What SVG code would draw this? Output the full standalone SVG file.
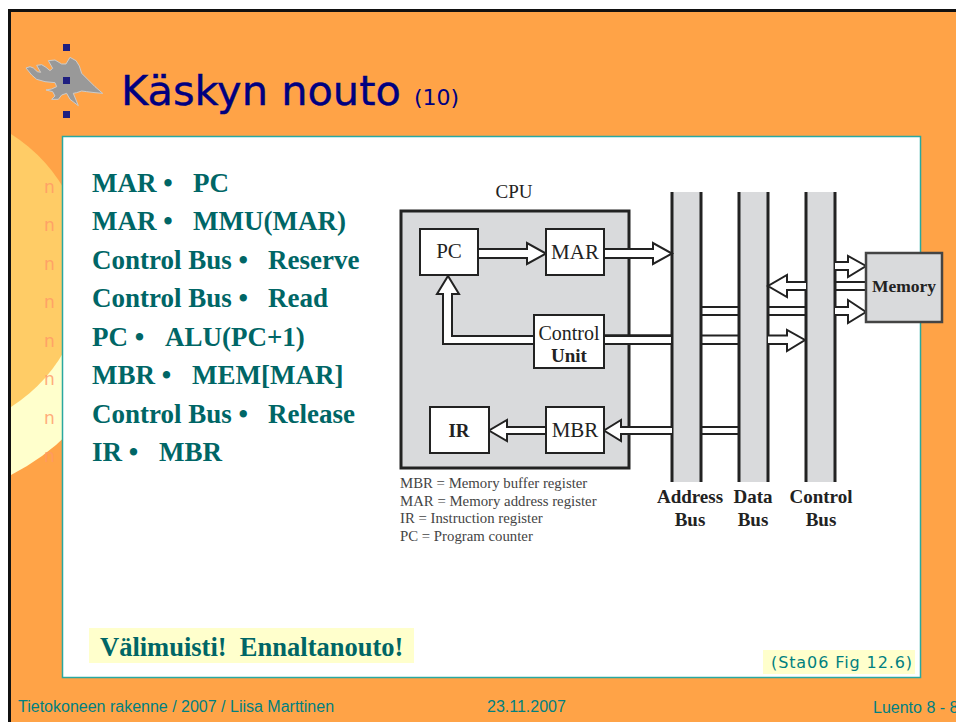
<svg xmlns="http://www.w3.org/2000/svg" width="956" height="722" viewBox="0 0 956 722">
<style>
.b{font-family:"Liberation Serif",serif;font-weight:bold;font-size:27px;fill:#006666}
.n{font-family:"DejaVu Sans",sans-serif;font-size:17px;fill:#FF9966;opacity:.8}
.f{font-family:"Liberation Sans",sans-serif;font-size:16px;fill:#008080}
.d{font-family:"Liberation Serif",serif;fill:#222;font-size:19px;text-anchor:middle}
.r{font-size:21px}
.k{font-weight:bold}
.l{font-family:"Liberation Serif",serif;fill:#444;font-size:14.800px}
.box{fill:#fff;stroke:#222;stroke-width:2}
.bus{fill:#d9dadc}
.ed{stroke:#222;stroke-width:3;fill:none}
.ar{fill:#fff;stroke:#222;stroke-width:2;stroke-linejoin:miter}
</style>
<rect width="956" height="722" fill="#fff"/>
<rect x="9.500" y="10.500" width="960" height="720" fill="#FFA347" stroke="#111" stroke-width="3"/>
<path d="M11 475A233 233 0 0 0 70 432V340H11Z" fill="#FFFFCC"/>
<path d="M11 134A162.500 162.500 0 0 1 70 200V340A162.500 162.500 0 0 1 11 407Z" fill="#FFCC66"/>
<g id="logo">
<path transform="translate(20 40) scale(.3333)" d="M18 84L30 80L40 84L52 95L62 97L50 76L65 74L78 82L90 92L98 85L85 62L105 60L125 72L138 72L150 52L168 62L178 78L185 100L205 120L225 140L248 160L225 158L200 155L185 153L170 158L160 160L175 197L150 178L140 160L125 165L115 178L95 178L105 168L98 155L78 150L95 147L110 140L105 128L75 125L50 118L35 105Z" fill="#999" stroke="#ccc" stroke-width="3" stroke-linejoin="round"/>
</g>
<g id="title-bullets" fill="#1F1F80">
<rect x="63" y="44" width="7" height="7"/><rect x="63" y="77" width="7" height="7"/><rect x="63" y="111" width="7" height="7"/>
</g>
<text x="121" y="105" font-family="&quot;DejaVu Sans&quot;,sans-serif" font-size="41.500" fill="#000080" stroke="#000080" stroke-width=".4">Käskyn nouto</text>
<text x="414" y="105" font-family="&quot;DejaVu Sans&quot;,sans-serif" font-size="22" fill="#000080">(10)</text>
<rect id="panel" x="62.500" y="136.500" width="858" height="541" fill="#fff" stroke="#2AA8A0" stroke-width="1.500"/>
<g id="bullets">
<text class="n" x="44" y="193">n</text><text class="n" x="44" y="231">n</text><text class="n" x="44" y="270">n</text><text class="n" x="44" y="308">n</text><text class="n" x="44" y="347">n</text><text class="n" x="44" y="385">n</text><text class="n" x="44" y="424">n</text><text class="n" x="44" y="462">n</text>
</g>
<g id="steps">
<text class="b" x="92" y="192">MAR •<tspan x="193">PC</tspan></text>
<text class="b" x="92" y="230">MAR •<tspan x="193">MMU(MAR)</tspan></text>
<text class="b" x="92" y="269">Control Bus •<tspan x="268">Reserve</tspan></text>
<text class="b" x="92" y="307">Control Bus •<tspan x="268">Read</tspan></text>
<text class="b" x="92" y="346">PC •<tspan x="165">ALU(PC+1)</tspan></text>
<text class="b" x="92" y="384">MBR •<tspan x="192">MEM[MAR]</tspan></text>
<text class="b" x="92" y="423">Control Bus •<tspan x="268">Release</tspan></text>
<text class="b" x="92" y="461">IR •<tspan x="159">MBR</tspan></text>
</g>
<g id="cpu">
<rect x="401" y="211" width="228" height="257" fill="#d9dadc" stroke="#222" stroke-width="3"/>
<text class="d" x="514" y="198" font-size="19.500">CPU</text>
</g>
<g id="bus-address"><rect class="bus" x="672" y="192" width="29" height="290"/><path class="ed" d="M672 192V482M701 192V482"/></g>
<g id="bus-data"><rect class="bus" x="739" y="192" width="29" height="290"/><path class="ed" d="M739 192V482M768 192V482"/></g>
<g id="bus-control"><rect class="bus" x="806" y="192" width="29" height="290"/><path class="ed" d="M806 192V482M835 192V482"/></g>
<g id="connectors">
<path class="ar" d="M478 249H527V243L546 253.500L527 264V258H478"/>
<path class="ar" d="M604 249H653V243L672 253.500L653 264V258H604"/>
<path class="ar" d="M534 336H452V294H459L448 276L437 294H443V344H534"/>
<path class="ar" d="M604 335.500H672M604 344H672M604 336H672V344H604" stroke="none"/>
<path class="ar" d="M604 335.500H672M672 344H604"/>
<path class="ar" d="M701 335.500H739M739 344H701"/>
<path class="ar" d="M768 335.500H787V330L805 340L787 351V344H768"/>
<path class="ar" d="M701 307H739M739 315H701"/>
<path class="ar" d="M768 307H806M806 315H768"/>
<path class="ar" d="M806 282H787V275L768 286L787 297V290H806"/>
<path class="ar" d="M835 282H866M866 290H835"/>
<path class="ar" d="M835 262H848V256L866 266L848 277V270H835"/>
<path class="ar" d="M835 307H848V300L866 312L848 323V315H835"/>
<path class="ar" d="M546 427H507V420L489 430.500L507 441V434H546"/>
<path class="ar" d="M672 427H621V420L604 430.500L621 441V434H672"/>
<path class="ar" d="M701 427H739M739 434H701"/>
</g>
<g id="pc"><rect class="box" x="420" y="229" width="58" height="46" stroke-width="3"/><text class="d r" x="449" y="258">PC</text></g>
<g id="mar"><rect class="box" x="546" y="229" width="58" height="46"/><text class="d r" x="575" y="259">MAR</text></g>
<g id="control-unit"><rect class="box" x="534" y="315" width="70" height="53"/><text class="d" x="569" y="340" style="font-size:20px">Control</text><text class="d k" x="569" y="362">Unit</text></g>
<g id="ir"><rect class="box" x="430" y="407" width="59" height="46"/><text class="d k" x="459" y="437">IR</text></g>
<g id="mbr"><rect class="box" x="546" y="407" width="58" height="46"/><text class="d r" x="575" y="437">MBR</text></g>
<g id="memory"><rect x="866" y="253" width="76" height="69" fill="#d9dadc" stroke="#444" stroke-width="2.500"/><text class="d k" x="904" y="292" style="font-size:17.500px">Memory</text></g>
<g id="legend">
<text class="l" x="400" y="488">MBR = Memory buffer register</text>
<text class="l" x="400" y="506">MAR = Memory address register</text>
<text class="l" x="400" y="523">IR = Instruction register</text>
<text class="l" x="400" y="541">PC = Program counter</text>
</g>
<g id="bus-labels">
<text class="d k" x="690" y="503">Address</text><text class="d k" x="690" y="526">Bus</text>
<text class="d k" x="753" y="503">Data</text><text class="d k" x="753" y="526">Bus</text>
<text class="d k" x="821" y="503">Control</text><text class="d k" x="821" y="526">Bus</text>
</g>
<g id="note">
<rect x="89" y="628" width="325" height="35" fill="#FFFFCC"/>
<text x="100" y="656" font-family="&quot;Liberation Serif&quot;,serif" font-weight="bold" font-size="26.500" fill="#006666" xml:space="preserve">Välimuisti!  Ennaltanouto!</text>
</g>
<g id="source">
<rect x="763" y="650" width="152" height="24" fill="#FFFFCC"/>
<text x="771" y="668" font-family="&quot;DejaVu Sans&quot;,sans-serif" font-size="16" letter-spacing=".9" fill="#008080">(Sta06 Fig 12.6)</text>
</g>
<g id="footer">
<text class="f" x="18" y="712">Tietokoneen rakenne / 2007 / Liisa Marttinen</text>
<text class="f" x="487" y="712">23.11.2007</text>
<text class="f" x="873" y="713">Luento 8 - 8</text>
</g>
</svg>
